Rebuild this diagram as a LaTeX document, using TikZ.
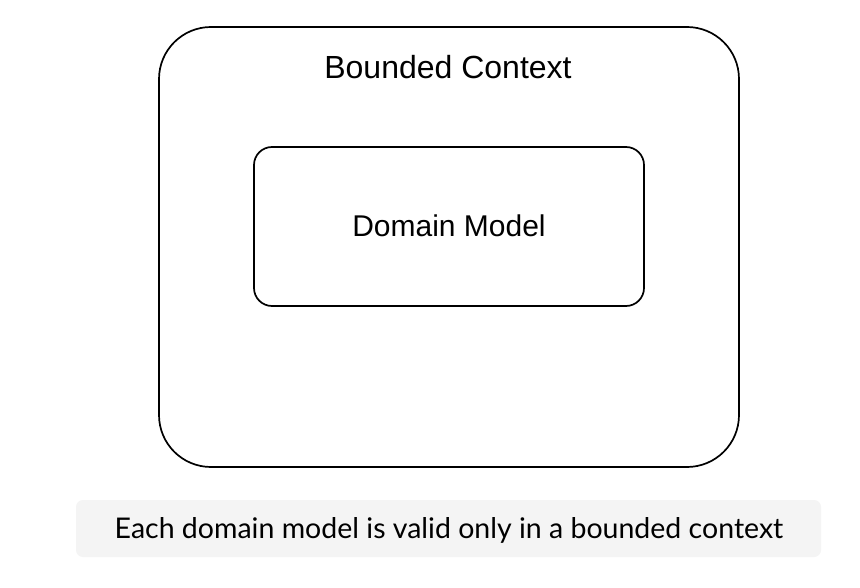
\documentclass[tikz,border=0pt]{standalone}
\usepackage{fontspec}
\setmainfont{Liberation Sans}
\newfontfamily\capfont{Lato}
\definecolor{capbg}{HTML}{F4F4F4}
\begin{document}
\begin{tikzpicture}[x=1pt,y=-1pt,
  boxline/.style={draw=black,line width=1.7pt},
  lbl/.style={text=black,inner sep=0pt,anchor=base}]
\useasboundingbox (0,0) rectangle (860,588);
\fill[white] (0,0) rectangle (860,588);
\draw[boxline,rounded corners=52pt] (159,27) rectangle (739,467);
\node[lbl,font=\fontsize{32}{36}\selectfont] (bc) at (448,79) {Bounded Context};
\draw[boxline,rounded corners=18pt] (254,147) rectangle (644,306);
\node[lbl,font=\fontsize{30}{34}\selectfont] (dm) at (449,237) {Domain Model};
\fill[capbg,rounded corners=7pt] (76,500) rectangle (821,557);
\node[lbl,font=\capfont\fontsize{28.5}{32}\selectfont] (cap) at (449,538) {Each domain model is valid only in a bounded context};
\end{tikzpicture}
\end{document}
